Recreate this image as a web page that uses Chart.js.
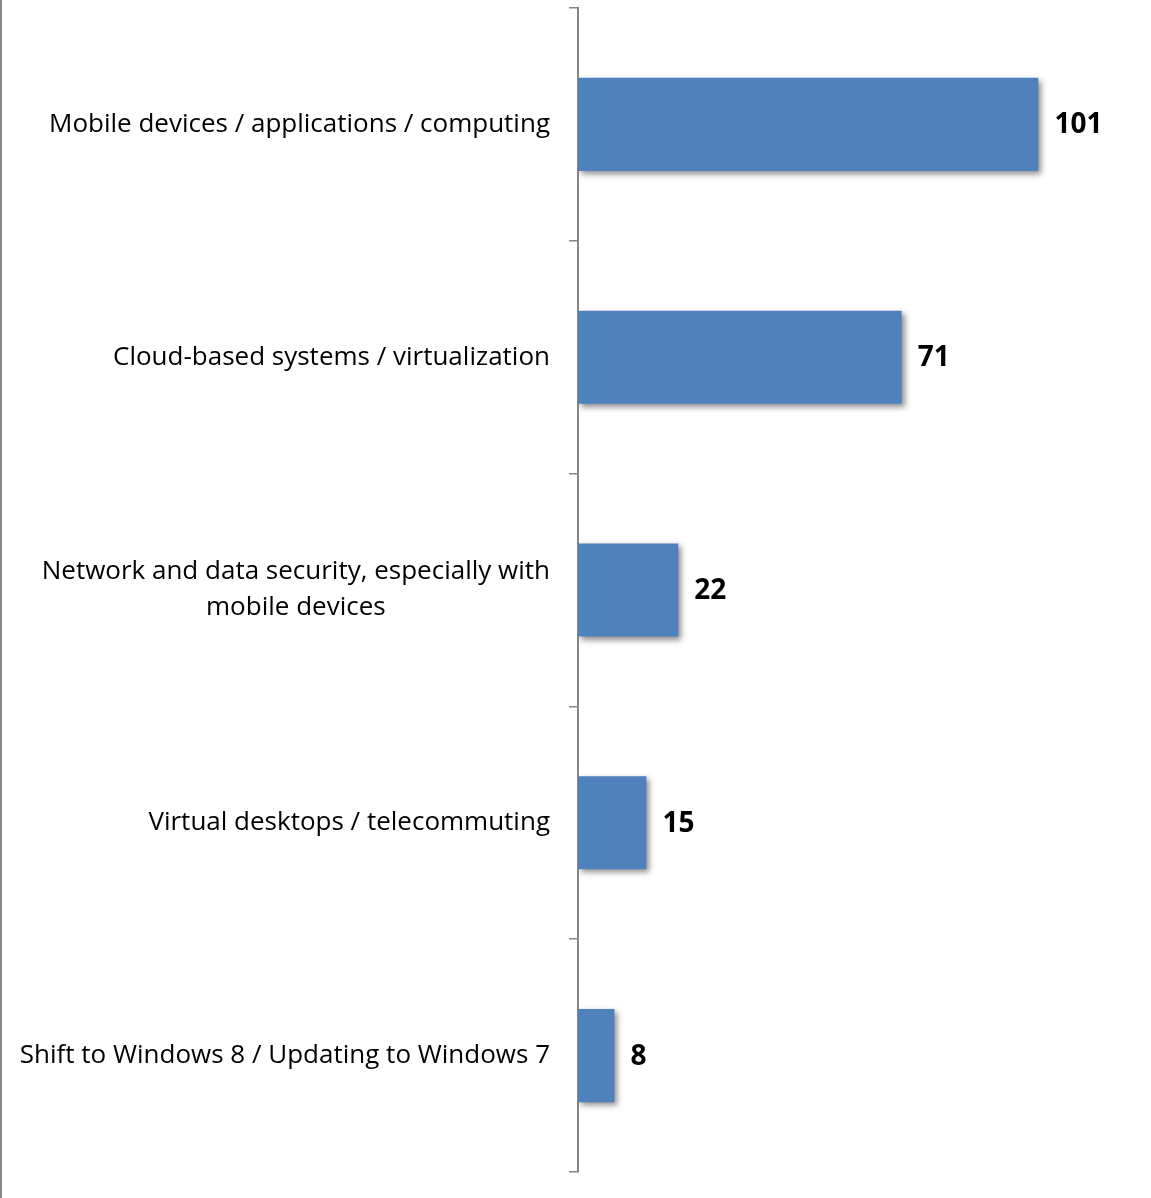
<!DOCTYPE html>
<html>
<head>
<meta charset="utf-8">
<script src="https://cdn.jsdelivr.net/npm/chart.js@4"></script>
<style>
  html, body { margin: 0; padding: 0; background: #fff; }
  #wrap { width: 1151px; height: 1198px; position: relative; }
</style>
</head>
<body>
<div id="wrap"><canvas id="chart" width="1151" height="1198"></canvas></div>
<script>
const categories = [
    ['Mobile devices / applications / computing'],
    ['Cloud-based systems / virtualization'],
    ['Network and data security, especially with', 'mobile devices'],
    ['Virtual desktops / telecommuting'],
    ['Shift to Windows 8 / Updating to Windows 7']
];
const values = [101, 71, 22, 15, 8];

const FONT = '"Open Sans", "Noto Sans", sans-serif';

// left frame line + bar shadows + own labels
const decorPlugin = {
    id: 'decor',
    beforeDraw(chart) {
        const ctx = chart.ctx;
        ctx.save();
        ctx.strokeStyle = '#888888';
        ctx.lineWidth = 2;
        ctx.beginPath();
        ctx.moveTo(1, 0);
        ctx.lineTo(1, chart.height);
        ctx.stroke();
        ctx.restore();
    },
    beforeDatasetsDraw(chart) {
        const ctx = chart.ctx;
        ctx.save();
        ctx.shadowColor = 'rgba(0,0,0,0.45)';
        ctx.shadowBlur = 6;
        ctx.shadowOffsetX = 3;
        ctx.shadowOffsetY = 3;
    },
    afterDatasetsDraw(chart) {
        chart.ctx.restore();
    },
    afterDraw(chart) {
        const ctx = chart.ctx;
        const yScale = chart.scales.y;
        ctx.save();
        // category labels: block right-aligned, lines centred within block
        ctx.font = '26px ' + FONT;
        ctx.fillStyle = '#000';
        ctx.textBaseline = 'middle';
        ctx.textAlign = 'center';
        const lineH = 36;
        const rightEdge = 550;
        categories.forEach((lines, i) => {
            const cy = yScale.getPixelForTick(i);
            const widest = Math.max(...lines.map(l => ctx.measureText(l).width));
            const cx = rightEdge - widest / 2;
            const top = cy - (lines.length - 1) * lineH / 2;
            lines.forEach((l, j) => ctx.fillText(l, cx, top + j * lineH));
        });
        // value labels
        ctx.font = 'bold 28px ' + FONT;
        ctx.textAlign = 'left';
        const meta = chart.getDatasetMeta(0);
        meta.data.forEach((bar, i) => {
            ctx.fillText(String(values[i]), bar.x + 16, bar.y + 1);
        });
        ctx.restore();
    }
};

new Chart(document.getElementById('chart'), {
    type: 'bar',
    data: {
        labels: categories,
        datasets: [{
            data: values,
            backgroundColor: '#4F81BD',
            borderWidth: 0,
            barPercentage: 0.4,
            categoryPercentage: 1
        }]
    },
    options: {
        indexAxis: 'y',
        responsive: false,
        animation: false,
        layout: { padding: { top: 8, bottom: 26, left: 0, right: 26 } },
        plugins: {
            legend: { display: false },
            tooltip: { enabled: false }
        },
        scales: {
            x: {
                display: false,
                min: 0,
                max: 120
            },
            y: {
                grid: {
                    display: true,
                    drawOnChartArea: false,
                    drawTicks: true,
                    tickLength: 9,
                    color: '#868686',
                    lineWidth: 1.5,
                    offset: true
                },
                border: { display: true, color: '#868686', width: 2 },
                ticks: { color: 'rgba(0,0,0,0)', font: { size: 1 } },
                afterFit(scale) { scale.width = 578; }
            }
        }
    },
    plugins: [decorPlugin]
});
</script>
</body>
</html>
